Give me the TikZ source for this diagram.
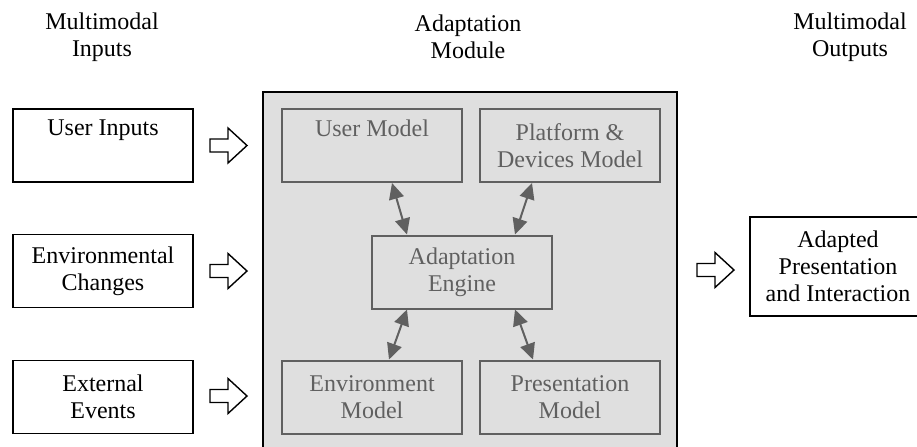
\documentclass[tikz,border=0pt]{standalone}
\usepackage{fontspec}
\setmainfont{Liberation Serif}
\usetikzlibrary{arrows.meta,calc}
\definecolor{panelgray}{HTML}{DFDFDF}
\definecolor{modelgray}{HTML}{606060}

\begin{document}
\begin{tikzpicture}[x=0.5pt,y=-0.5pt,
    in box/.style={draw, line width=0.8pt, fill=white, minimum width=90pt, minimum height=36.5pt, align=center},
    model box/.style={draw=modelgray, text=modelgray, fill=panelgray, line width=1pt, minimum width=90pt, minimum height=36.5pt, align=center},
    link/.style={{Triangle[length=8pt,width=7.5pt]}-{Triangle[length=8pt,width=7.5pt]}, draw=modelgray, line width=1pt},
    open arrow/.style={draw, line width=0.7pt, fill=white}]
  \tikzstyle{every node}=[font=\fontsize{12}{13.5}\selectfont]

  \useasboundingbox (0,0) rectangle (917,446);

  % headings
  \node[align=center] (hin) at (102,37) {Multimodal\\Inputs};
  \node[align=center] (hmod) at (468,37) {Adaptation\\Module};
  \node[align=center] (hout) at (850,37) {Multimodal\\Outputs};

  % adaptation module panel
  \draw[fill=panelgray, line width=1pt] (263,92) rectangle (677,470);

  % inputs
  \node[in box] (ui) at (103,145.5) {User Inputs\\\strut};
  \node[in box] (ec) at (103,271) {Environmental\\Changes};
  \node[in box] (ee) at (103,397) {External\\Events};

  % models
  \node[model box] (um) at (372,145.5) {User Model\\\strut};
  \node[model box] (pdm) at (570,145.5) {Platform \&\\Devices Model};
  \node[model box] (eng) at (462,272) {Adaptation\\Engine};
  \node[model box] (envm) at (372,397) {Environment\\Model};
  \node[model box] (prm) at (570,397) {Presentation\\Model};

  % output, right edge runs off the page
  \node[in box, minimum width=88pt, minimum height=49.5pt] (out) at (838,266.5) {Adapted\\Presentation\\and Interaction};

  % links
  \draw[link] ($(um.south)+(20,0)$) -- ($(eng.north)+(-55,0)$);
  \draw[link] ($(pdm.south)+(-38,0)$) -- ($(eng.north)+(53,0)$);
  \draw[link] ($(eng.south)+(-55,0)$) -- ($(envm.north)+(17,0)$);
  \draw[link] ($(eng.south)+(53,0)$) -- ($(prm.north)+(-37,0)$);

  % open arrows
  \foreach \ax/\ay in {210/145.5, 210/271, 210/396, 697/270}
    \draw[open arrow] (\ax,\ay-6.5) -- ++(18,0) -- ++(0,-11) -- ++(19,17.5)
      -- ++(-19,17.5) -- ++(0,-11) -- ++(-18,0) -- cycle;

\end{tikzpicture}
\end{document}
